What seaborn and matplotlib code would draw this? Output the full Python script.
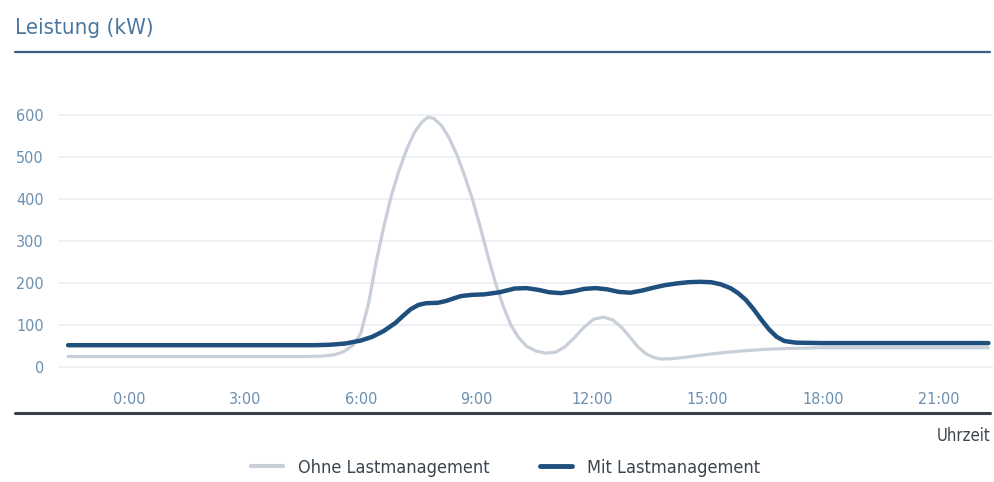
import numpy as np
import pandas as pd
import matplotlib
matplotlib.use("Agg")
import matplotlib.pyplot as plt
from matplotlib.lines import Line2D
from matplotlib import font_manager
import seaborn as sns

# Daten
ohne_h = [-1.6, 0, 3, 4.5, 5.0, 5.3, 5.55, 5.8, 6.0, 6.2, 6.4, 6.6, 6.8, 7.0, 7.2, 7.4,
          7.6, 7.75, 7.9, 8.1, 8.3, 8.5, 8.7, 8.9, 9.1, 9.3, 9.5, 9.7, 9.9, 10.1,
          10.3, 10.55, 10.8, 11.05, 11.3, 11.55, 11.8, 12.05, 12.3, 12.55, 12.8,
          13.0, 13.2, 13.4, 13.6, 13.8, 14.1, 14.5, 15.0, 15.5, 16.0, 16.5, 17.0,
          18.0, 20.0, 22.3]
ohne_kw = [25, 25, 25, 25, 26, 29, 36, 52, 80, 150, 250, 335, 410, 470, 520, 560,
           585, 595, 592, 575, 545, 505, 455, 400, 335, 265, 200, 145, 100, 70,
           50, 38, 33, 35, 48, 70, 95, 114, 119, 112, 92,
           70, 48, 32, 23, 19, 20, 24, 30, 35, 39, 42, 44,
           46, 46, 46]

mit_h = [-1.6, 0, 3, 4.8, 5.2, 5.6, 6.0, 6.3, 6.6, 6.9, 7.1, 7.3, 7.5, 7.7, 8.0, 8.2,
         8.4, 8.6, 8.9, 9.2, 9.6, 10.0, 10.3, 10.6, 10.9, 11.2, 11.5, 11.8, 12.1,
         12.4, 12.7, 13.0, 13.3, 13.6, 13.9, 14.2, 14.5, 14.8, 15.1, 15.35, 15.6,
         15.8, 16.0, 16.2, 16.4, 16.6, 16.8, 17.0, 17.3, 18.0, 20.0, 22.3]
mit_kw = [52, 52, 52, 52, 53, 56, 63, 72, 86, 105, 122, 138, 148, 152, 153, 157,
          163, 169, 172, 173, 178, 187, 188, 184, 178, 176, 180, 186, 188,
          185, 179, 177, 182, 189, 195, 199, 202, 203, 202, 197, 188,
          176, 160, 138, 113, 90, 72, 62, 58, 57, 57, 57]

x_ticks = [0, 3, 6, 9, 12, 15, 18, 21]
x_labels = ["0:00", "3:00", "6:00", "9:00", "12:00", "15:00", "18:00", "21:00"]
y_ticks = [0, 100, 200, 300, 400, 500, 600]

df = pd.concat([
    pd.DataFrame({"h": ohne_h, "kw": ohne_kw, "serie": "Ohne Lastmanagement"}),
    pd.DataFrame({"h": mit_h, "kw": mit_kw, "serie": "Mit Lastmanagement"}),
])

sns.set_style("white")
namen = {f.name for f in font_manager.fontManager.ttflist}
if "DejaVu Sans Condensed" in namen:
    plt.rcParams["font.family"] = ["DejaVu Sans Condensed", "DejaVu Sans"]
else:
    plt.rcParams["font.family"] = ["DejaVu Sans"]
    plt.rcParams["font.stretch"] = "condensed"

farben = {"Ohne Lastmanagement": "#c8cfd9", "Mit Lastmanagement": "#1f4f7d"}
tick_col = "#6b8fb0"

fig = plt.figure(figsize=(9.95, 4.82), dpi=100)
ax = fig.add_axes([0.058, 0.222, 0.94, 0.560])

for serie, lw in [("Ohne Lastmanagement", 2.3), ("Mit Lastmanagement", 3.2)]:
    sub = df[df["serie"] == serie]
    sns.lineplot(data=sub, x="h", y="kw", ax=ax, color=farben[serie], linewidth=lw,
                 label=serie, legend=False)

ax.set_xlim(-1.87, 22.42)
ax.set_ylim(-19, 624)
ax.set_yticks(y_ticks)
ax.set_xticks(x_ticks)
ax.set_xticklabels(x_labels)
ax.grid(axis="y", color="#eceef1", linewidth=1.2)
ax.grid(axis="x", visible=False)
for s in ax.spines.values():
    s.set_visible(False)
ax.tick_params(axis="both", length=0, labelcolor=tick_col, labelsize=11.5)
ax.tick_params(axis="y", pad=10)
ax.tick_params(axis="x", pad=12)
ax.set_xlabel("")
ax.set_ylabel("")

# Titel und Rahmenlinien
fig.text(0.015, 0.942, "Leistung (kW)", fontsize=16, color="#4a77a0", va="center")
fig.add_artist(Line2D([0.015, 0.995], [0.892, 0.892], color="#3a5f80", linewidth=1.6))
fig.add_artist(Line2D([0.015, 0.995], [0.143, 0.143], color="#3a3f45", linewidth=2.2))
fig.text(0.995, 0.095, "Uhrzeit", fontsize=12, color="#3a4550", ha="right", va="center")

handles = [Line2D([], [], color=farben["Ohne Lastmanagement"], linewidth=3),
           Line2D([], [], color=farben["Mit Lastmanagement"], linewidth=3.5)]
fig.legend(handles, ["Ohne Lastmanagement", "Mit Lastmanagement"], loc="center",
           bbox_to_anchor=(0.508, 0.03), ncol=2, frameon=False, fontsize=13,
           handlelength=1.8, handletextpad=0.8, columnspacing=2.8,
           labelcolor="#3a4550")

fig.savefig("out.png", dpi=100)
